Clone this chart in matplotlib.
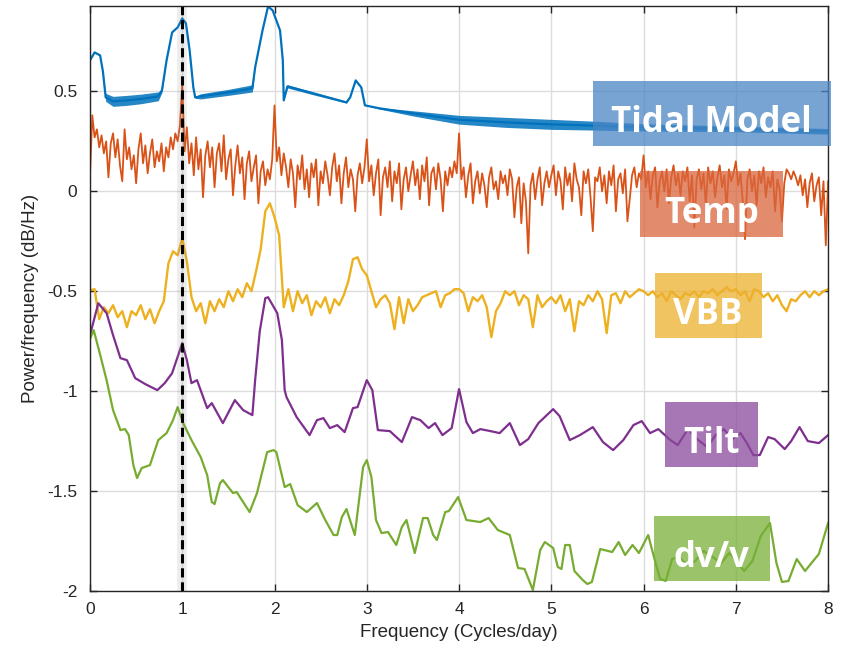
import numpy as np
import matplotlib.pyplot as plt
from matplotlib.patches import Rectangle

# tidal model: (freq, dB, ripple half-width)
tidal = [(0.0, 0.655, 0), (0.05, 0.695, 0), (0.11, 0.68, 0), (0.14, 0.6, 0),
         (0.17, 0.47, 0.02), (0.25, 0.45, 0.025), (0.4, 0.455, 0.025), (0.55, 0.462, 0.024),
         (0.74, 0.475, 0.022), (0.78, 0.505, 0.01), (0.83, 0.655, 0), (0.89, 0.795, 0),
         (0.95, 0.82, 0), (1.0, 0.865, 0), (1.04, 0.84, 0), (1.08, 0.705, 0), (1.12, 0.52, 0),
         (1.14, 0.47, 0.005), (1.2, 0.475, 0.013), (1.5, 0.495, 0.015), (1.76, 0.515, 0.018),
         (1.79, 0.62, 0), (1.87, 0.805, 0), (1.93, 0.925, 0), (1.98, 0.905, 0), (2.06, 0.805, 0),
         (2.09, 0.655, 0), (2.1, 0.455, 0), (2.14, 0.525, 0.008), (2.42, 0.49, 0.007),
         (2.78, 0.445, 0.004), (2.82, 0.47, 0), (2.88, 0.555, 0), (2.94, 0.52, 0), (2.98, 0.43, 0),
         (3.14, 0.415, 0.004), (3.5, 0.39, 0.013), (4.0, 0.358, 0.022), (4.5, 0.345, 0.025),
         (5.0, 0.335, 0.025), (5.5, 0.328, 0.022), (6.0, 0.32, 0.018), (7.0, 0.312, 0.014),
         (8.0, 0.3, 0.014)]

# temperature, every 0.025 cycles/day
temp = [
    0.08, 0.38, 0.27, 0.31, 0.22, 0.28, 0.19, 0.25, 0.07, 0.24, 0.29, 0.17, 0.26, 0.13, 0.05, 0.31, 0.16, 0.22, 0.11, 0.18,
    0.04, 0.21, 0.29, 0.14, 0.23, 0.09, 0.19, 0.26, 0.12, 0.2, 0.15, 0.24, 0.1, 0.22, 0.17, 0.27, 0.21, 0.29, 0.25, 0.33,
    0.54, 0.2, 0.32, 0.14, 0.24, 0.08, 0.27, 0.11, 0.21, -0.03, 0.18, 0.25, 0.12, 0.22, 0.02, 0.19, 0.24, 0.1, 0.28, 0.06,
    0.16, 0.21, -0.02, 0.13, 0.23, 0.09, 0.17, -0.04, 0.14, 0.2, 0.05, 0.12, 0.18, -0.06, 0.1, 0.15, 0.03, 0.11, 0.06, 0.16,
    0.43, 0.15, 0.22, 0.08, 0.19, 0.12, 0.02, 0.16, 0.09, -0.08, 0.13, 0.06, 0.18, 0.01, 0.11, -0.03, 0.14, 0.07, 0.16, -0.07,
    0.1, 0.04, 0.15, 0.08, -0.02, 0.12, 0.19, 0.05, 0.13, -0.06, 0.09, 0.17, 0.02, 0.11, 0.06, -0.1, 0.08, 0.14, 0.04, 0.12,
    0.26, 0.05, 0.13, -0.02, 0.09, 0.16, -0.12, 0.07, 0.12, 0.02, 0.15, -0.05, 0.1, 0.04, 0.14, -0.09, 0.06, 0.12, 0.0, 0.08,
    0.15, 0.03, 0.11, -0.04, 0.13, 0.05, 0.17, -0.07, 0.09, 0.12, 0.01, 0.14, 0.06, -0.1, 0.1, 0.03, 0.12, 0.07, 0.15, 0.09,
    0.29, 0.06, 0.12, -0.03, 0.08, 0.14, -0.06, 0.05, 0.1, -0.01, 0.09, 0.03, -0.08, 0.07, 0.12, 0.01, 0.05, -0.04, 0.1, 0.04,
    0.08, -0.02, 0.11, 0.06, -0.13, 0.02, 0.07, -0.16, 0.04, -0.05, -0.31, 0.03, 0.09, -0.04, 0.06, 0.12, -0.07, 0.04, 0.1, 0.02,
    0.08, 0.13, -0.02, 0.1, 0.05, -0.09, 0.12, 0.03, 0.09, -0.05, 0.14, 0.06, 0.02, -0.12, 0.1, 0.04, 0.11, -0.03, -0.2, 0.07,
    0.05, 0.12, 0.0, 0.08, -0.06, 0.1, 0.03, 0.13, -0.1, 0.06, 0.09, -0.01, 0.11, -0.15, -0.04, 0.08, 0.12, 0.02, 0.09, 0.06,
    0.18, 0.02, 0.1, -0.04, 0.08, 0.12, -0.08, 0.05, 0.1, 0.0, 0.11, -0.06, 0.07, 0.13, 0.03, 0.09, -0.02, 0.1, 0.05, 0.12,
    -0.05, 0.08, -0.18, 0.06, 0.11, 0.01, 0.09, -0.07, 0.12, 0.04, 0.1, -0.03, 0.07, 0.13, 0.02, 0.08, -0.09, 0.11, 0.05, 0.09,
    0.15, 0.03, 0.09, -0.05, -0.24, 0.06, 0.11, 0.0, 0.08, -0.07, 0.1, 0.04, 0.12, -0.03, 0.07, 0.02, 0.1, -0.1, 0.06, 0.01,
    -0.15, 0.04, 0.11, 0.09, 0.06, 0.1, 0.07, 0.03, 0.08, -0.02, 0.06, -0.08, 0.04, 0.09, -0.05, 0.03, 0.07, -0.12, 0.05, -0.27,
    0.05]

# VBB, every 0.05 cycles/day
vbb = [
    -0.495, -0.49, -0.64, -0.58, -0.61, -0.57, -0.63, -0.6, -0.68, -0.6, -0.62, -0.57, -0.64, -0.59, -0.66, -0.6, -0.55, -0.36, -0.3, -0.32,
    -0.235, -0.35, -0.53, -0.6, -0.56, -0.66, -0.55, -0.6, -0.54, -0.58, -0.5, -0.55, -0.49, -0.53, -0.46, -0.5, -0.4, -0.29, -0.1, -0.06,
    -0.13, -0.22, -0.58, -0.49, -0.6, -0.5, -0.56, -0.52, -0.62, -0.55, -0.58, -0.53, -0.61, -0.54, -0.57, -0.52, -0.45, -0.34, -0.33, -0.39,
    -0.42, -0.5, -0.58, -0.54, -0.52, -0.56, -0.69, -0.53, -0.66, -0.54, -0.6, -0.57, -0.53, -0.52, -0.51, -0.5, -0.58, -0.52, -0.51, -0.49,
    -0.49, -0.51, -0.6, -0.53, -0.55, -0.52, -0.58, -0.73, -0.6, -0.56, -0.5, -0.52, -0.5, -0.57, -0.52, -0.54, -0.68, -0.52, -0.58, -0.55,
    -0.53, -0.56, -0.52, -0.6, -0.54, -0.7, -0.55, -0.57, -0.52, -0.55, -0.5, -0.54, -0.71, -0.52, -0.51, -0.56, -0.5, -0.53, -0.51, -0.49,
    -0.5, -0.52, -0.5, -0.53, -0.51, -0.55, -0.5, -0.52, -0.54, -0.51, -0.52, -0.5, -0.53, -0.5, -0.51, -0.49, -0.52, -0.5, -0.48, -0.5,
    -0.49, -0.52, -0.5, -0.55, -0.49, -0.5, -0.53, -0.51, -0.55, -0.52, -0.57, -0.6, -0.54, -0.55, -0.52, -0.5, -0.53, -0.5, -0.52, -0.5,
    -0.49]

tilt = [(0.0, -0.72), (0.09, -0.56), (0.18, -0.61), (0.25, -0.72), (0.33, -0.835), (0.4, -0.845),
        (0.49, -0.935), (0.6, -0.965), (0.73, -0.995), (0.81, -0.96), (0.89, -0.91), (1.0, -0.76),
        (1.05, -0.845), (1.1, -0.96), (1.16, -0.945), (1.27, -1.085), (1.32, -1.06), (1.44, -1.16),
        (1.57, -1.045), (1.66, -1.095), (1.76, -1.12), (1.79, -0.945), (1.84, -0.7), (1.9, -0.535),
        (1.93, -0.53), (2.03, -0.61), (2.08, -0.745), (2.11, -0.995), (2.13, -1.03), (2.24, -1.13),
        (2.38, -1.22), (2.46, -1.145), (2.53, -1.135), (2.6, -1.185), (2.68, -1.17), (2.76, -1.205),
        (2.85, -1.085), (2.9, -1.08), (3.0, -0.945), (3.06, -0.995), (3.12, -1.195), (3.25, -1.2),
        (3.38, -1.255), (3.49, -1.13), (3.58, -1.145), (3.67, -1.185), (3.74, -1.16), (3.82, -1.22),
        (3.92, -1.185), (4.0, -0.99), (4.08, -1.155), (4.15, -1.21), (4.23, -1.19), (4.34, -1.2),
        (4.44, -1.21), (4.55, -1.16), (4.66, -1.27), (4.75, -1.24), (4.86, -1.16), (5.02, -1.09),
        (5.09, -1.125), (5.2, -1.245), (5.31, -1.22), (5.45, -1.18), (5.56, -1.255), (5.67, -1.295),
        (5.78, -1.245), (5.89, -1.17), (5.98, -1.15), (6.07, -1.21), (6.16, -1.19), (6.29, -1.245),
        (6.37, -1.27), (6.48, -1.19), (6.58, -1.24), (6.69, -1.28), (6.78, -1.22), (6.87, -1.19),
        (6.96, -1.24), (7.05, -1.21), (7.12, -1.26), (7.19, -1.32), (7.26, -1.32), (7.35, -1.23),
        (7.42, -1.24), (7.53, -1.29), (7.6, -1.25), (7.69, -1.18), (7.78, -1.25), (7.9, -1.26),
        (8.0, -1.22)]

dvv = [(0.0, -0.74), (0.04, -0.695), (0.1, -0.8), (0.18, -0.945), (0.25, -1.095), (0.33, -1.195),
       (0.38, -1.19), (0.42, -1.22), (0.47, -1.37), (0.51, -1.435), (0.56, -1.385), (0.65, -1.37),
       (0.74, -1.245), (0.83, -1.21), (0.9, -1.145), (0.95, -1.08), (1.01, -1.16), (1.1, -1.245),
       (1.2, -1.33), (1.27, -1.42), (1.32, -1.555), (1.35, -1.565), (1.41, -1.46), (1.44, -1.445),
       (1.55, -1.51), (1.59, -1.505), (1.73, -1.605), (1.81, -1.51), (1.92, -1.305), (1.99, -1.295),
       (2.02, -1.305), (2.11, -1.48), (2.17, -1.465), (2.25, -1.57), (2.35, -1.605), (2.46, -1.56),
       (2.55, -1.645), (2.64, -1.72), (2.68, -1.72), (2.73, -1.63), (2.78, -1.59), (2.87, -1.72),
       (2.96, -1.38), (3.0, -1.345), (3.05, -1.43), (3.1, -1.645), (3.16, -1.71), (3.23, -1.705),
       (3.32, -1.77), (3.38, -1.68), (3.43, -1.645), (3.52, -1.81), (3.61, -1.635), (3.66, -1.635),
       (3.72, -1.72), (3.76, -1.745), (3.85, -1.605), (3.89, -1.6), (3.99, -1.53), (4.08, -1.645),
       (4.23, -1.655), (4.32, -1.635), (4.42, -1.695), (4.55, -1.72), (4.64, -1.885), (4.71, -1.89),
       (4.8, -1.995), (4.88, -1.795), (4.93, -1.755), (5.02, -1.785), (5.07, -1.88), (5.11, -1.89),
       (5.15, -1.77), (5.2, -1.77), (5.25, -1.9), (5.34, -1.945), (5.39, -1.965), (5.44, -1.955),
       (5.53, -1.79), (5.66, -1.805), (5.73, -1.755), (5.8, -1.82), (5.88, -1.77), (5.95, -1.81),
       (6.05, -1.72), (6.13, -1.86), (6.18, -1.94), (6.24, -1.95), (6.31, -1.84), (6.38, -1.83),
       (6.47, -1.87), (6.56, -1.85), (6.65, -1.8), (6.75, -1.83), (6.84, -1.86), (6.93, -1.81),
       (7.02, -1.86), (7.09, -1.9), (7.18, -1.85), (7.27, -1.725), (7.37, -1.66), (7.44, -1.86),
       (7.5, -1.955), (7.57, -1.95), (7.66, -1.84), (7.75, -1.9), (7.9, -1.815), (8.0, -1.66)]

# label boxes: text, colour, (x0, x1, y0, y1)
labels = [('Tidal Model', '#4A86C4', (5.45, 8.03, 0.225, 0.55)),
          ('Temp', '#D9663C', (5.96, 7.51, -0.23, 0.1)),
          ('VBB', '#EDB02E', (6.12, 7.28, -0.735, -0.41)),
          ('Tilt', '#8A4A9C', (6.23, 7.24, -1.38, -1.055)),
          ('dv/v', '#78AF38', (6.11, 7.37, -1.95, -1.625))]

blue, orange, yellow, purple, green = '#0072BD', '#D95319', '#EDB120', '#7E2F8E', '#77AC30'

plt.rcParams['font.family'] = ['Liberation Sans', 'DejaVu Sans']
fig = plt.figure(figsize=(8.45, 6.49), dpi=100)
ax = fig.add_axes([0.1065, 0.0894, 0.8735, 0.9016])

tx, ty, thw = (np.array(v) for v in zip(*tidal))
ax.fill_between(tx, ty - thw, ty + thw, color=blue, lw=0, alpha=0.85)
ax.plot(tx, ty, color=blue, lw=1.6)

temp_x = np.arange(len(temp)) * 0.025
ax.plot(temp_x, temp, color=orange, lw=1.3)
vbb_x = np.arange(len(vbb)) * 0.05
ax.plot(vbb_x, vbb, color=yellow, lw=1.7)
ax.plot(*zip(*tilt), color=purple, lw=1.6)
ax.plot(*zip(*dvv), color=green, lw=1.6)

# marker at 1 cycle/day
ax.axvline(1, color='#888888', lw=7, alpha=0.15)
ax.axvline(1, color='black', lw=2.2, ls=(0, (3, 1.6)))

for name, col, (x0, x1, y0, y1) in labels:
    ax.add_patch(Rectangle((x0, y0), x1 - x0, y1 - y0, facecolor=col, alpha=0.75,
                           lw=0, zorder=5, clip_on=False))
    ax.text((x0 + x1) / 2, (y0 + y1) / 2 - 0.025, name, color='white', fontsize=25,
            fontweight='bold', family='Open Sans', ha='center', va='center_baseline', zorder=6)

ax.set_xlim(0, 8)
ax.set_ylim(-2, 0.928)
ax.set_xticks(range(9))
ax.set_yticks([-2, -1.5, -1, -0.5, 0, 0.5])
ax.set_yticklabels(['-2', '-1.5', '-1', '-0.5', '0', '0.5'])
ax.grid(True, color='#DCDCDC', lw=1)
ax.set_axisbelow(True)
ax.tick_params(direction='in', length=5, width=1, top=True, right=True,
               labelsize=12.5, colors='#262626')
ax.tick_params(axis='x', pad=8)
ax.tick_params(axis='y', pad=9)
for s in ax.spines.values():
    s.set_color('#262626')
    s.set_linewidth(1)
ax.set_xlabel('Frequency (Cycles/day)', fontsize=13.5, color='#262626', labelpad=5)
ax.set_ylabel('Power/frequency (dB/Hz)', fontsize=13.5, color='#262626', labelpad=6)

fig.savefig('out.png', dpi=100)
